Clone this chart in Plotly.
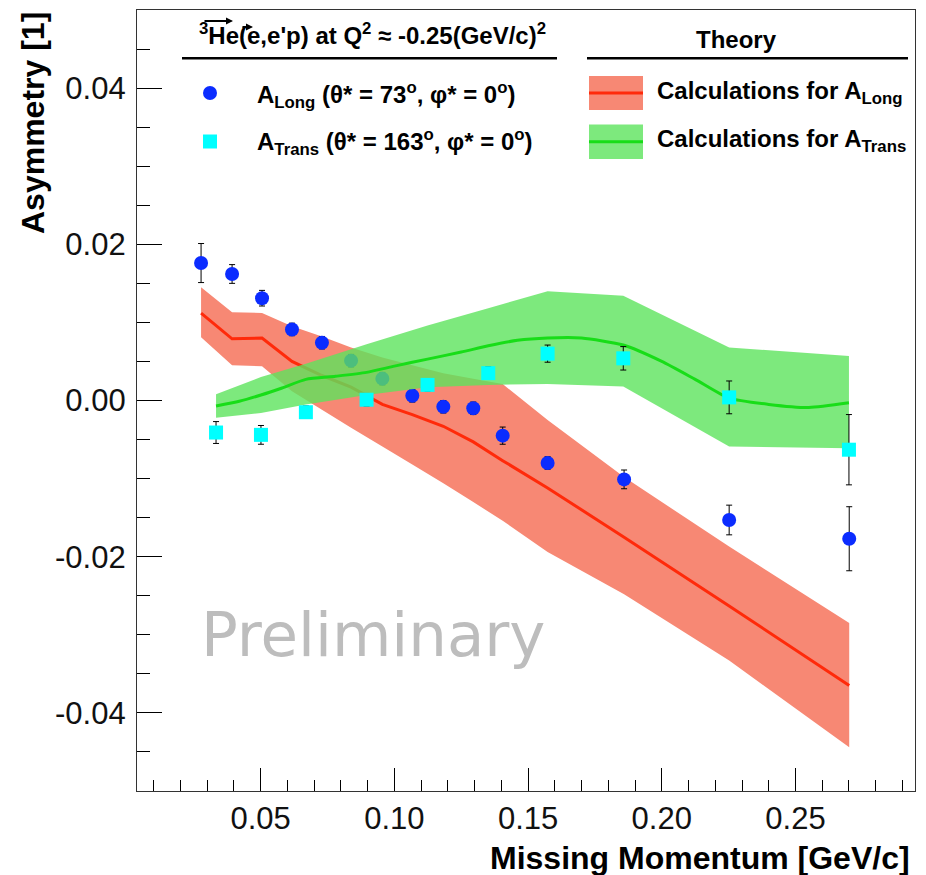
import plotly.graph_objects as go

# ---------------- data ----------------
# Measured A_Long (theta* = 73 deg, phi* = 0 deg)
x_long = [0.0277, 0.0393, 0.0505, 0.0617, 0.0729, 0.0838, 0.0955, 0.1067,
          0.1183, 0.1295, 0.1405, 0.1573, 0.1859, 0.2252, 0.2701]
a_long = [0.0176, 0.0162, 0.0131, 0.0091, 0.0074, 0.0051, 0.0028, 0.0006,
          -0.0008, -0.0010, -0.0045, -0.0080, -0.0101, -0.0153, -0.0177]
a_long_err = [0.0025, 0.0012, 0.0010, 0.0008, 0.0008, 0.0008, 0.0008, 0.0008,
              0.0008, 0.0008, 0.0011, 0.0008, 0.0012, 0.0019, 0.0041]

# Measured A_Trans (theta* = 163 deg, phi* = 0 deg)
x_trans = [0.0333, 0.0501, 0.0669, 0.0896, 0.1124, 0.1351, 0.1573, 0.1856,
           0.2252, 0.2700]
a_trans = [-0.0041, -0.0044, -0.0015, 0.0001, 0.0020, 0.0035, 0.0060, 0.0054,
           0.0004, -0.0063]
a_trans_err = [0.0014, 0.0012, 0.0008, 0.0008, 0.0008, 0.0008, 0.0011, 0.0015,
               0.0021, 0.0045]

# Theory for A_Long: central curve and uncertainty band
long_theory = [0.0112, 0.0079, 0.0080, 0.0050, 0.0032, 0.0017, -0.0005, -0.0018,
               -0.0033, -0.0053, -0.0077, -0.0112, -0.0175, -0.0263, -0.0365]
long_band_hi = [0.0145, 0.0113, 0.0112, 0.0095, 0.0082, 0.0068, 0.0055, 0.0045,
                0.0035, 0.0028, 0.0021, -0.0025, -0.0098, -0.0187, -0.0285]
long_band_lo = [0.0081, 0.0045, 0.0044, 0.0012, -0.0012, -0.0035, -0.0059, -0.0082,
                -0.0106, -0.0130, -0.0154, -0.0194, -0.0248, -0.0333, -0.0444]

# Theory for A_Trans: uncertainty band and central curve
trans_band_hi = [0.0008, 0.0030, 0.0047, 0.0072, 0.0096, 0.0118, 0.0140, 0.0134,
                 0.0068, 0.0057]
trans_band_lo = [-0.0022, -0.0016, -0.0005, 0.0007, 0.0017, 0.0020, 0.0021, 0.0018,
                 -0.0059, -0.0061]
trans_theory_x = [0.0333, 0.042, 0.0501, 0.058, 0.0669, 0.078, 0.0896, 0.10, 0.1124,
                  0.125, 0.1351, 0.146, 0.1573, 0.17, 0.1856, 0.20, 0.2125, 0.2252,
                  0.24, 0.255, 0.2700]
trans_theory = [-0.0007, -0.0001, 0.0007, 0.0016, 0.0027, 0.0031, 0.0036, 0.0044,
                0.0053, 0.0062, 0.0070, 0.0077, 0.0080, 0.0080, 0.0071, 0.0050,
                0.0027, 0.0003, -0.0005, -0.0009, -0.0003]

# Axis ticks
x_tick_vals = [0.05, 0.10, 0.15, 0.20, 0.25]
x_tick_text = ["0.05", "0.10", "0.15", "0.20", "0.25"]
y_tick_vals = [-0.04, -0.02, 0.0, 0.02, 0.04]
y_tick_text = ["-0.04", "-0.02", "0.00", "0.02", "0.04"]

# ---------------- style ----------------
W, H = 926, 875
ML, MR, MT, MB = 137, 11, 10, 84
FONT = "Liberation Sans"
BLUE = "#0b2cff"
CYAN = "#00ffff"
RED_LINE = "#ff2a0a"
RED_FILL = "rgb(247,136,116)"
GREEN_LINE = "#18dd18"
GREEN_FILL = "rgba(92,228,92,0.8)"


def px(x):
    """pixel column -> paper x"""
    return (x - ML) / (W - ML - MR)


def py(y):
    """pixel row -> paper y"""
    return (H - MB - y) / (H - MT - MB)


fig = go.Figure()

# A_Long theory band + curve
fig.add_trace(go.Scatter(
    x=x_long + x_long[::-1], y=long_band_hi + long_band_lo[::-1],
    fill="toself", mode="none", fillcolor=RED_FILL, hoverinfo="skip", showlegend=False))
fig.add_trace(go.Scatter(
    x=x_long, y=long_theory, mode="lines",
    line=dict(color=RED_LINE, width=3), hoverinfo="skip", showlegend=False))

# A_Long data
fig.add_trace(go.Scatter(
    x=x_long, y=a_long, mode="markers",
    marker=dict(symbol="circle", size=14, color=BLUE),
    error_y=dict(type="data", array=a_long_err, color="black", thickness=1, width=3),
    showlegend=False))

# A_Trans theory band + curve
fig.add_trace(go.Scatter(
    x=x_trans + x_trans[::-1], y=trans_band_hi + trans_band_lo[::-1],
    fill="toself", mode="none", fillcolor=GREEN_FILL, hoverinfo="skip", showlegend=False))
fig.add_trace(go.Scatter(
    x=trans_theory_x, y=trans_theory, mode="lines",
    line=dict(color=GREEN_LINE, width=3, shape="spline", smoothing=0.6),
    hoverinfo="skip", showlegend=False))

# A_Trans data
fig.add_trace(go.Scatter(
    x=x_trans, y=a_trans, mode="markers",
    marker=dict(symbol="square", size=14, color=CYAN),
    error_y=dict(type="data", array=a_trans_err, color="black", thickness=1, width=3),
    showlegend=False))

# ---------------- hand-made legend (overlay axes in paper units) ----------------
def overlay(trace):
    trace.update(xaxis="x2", yaxis="y2", hoverinfo="skip", showlegend=False)
    fig.add_trace(trace)


overlay(go.Scatter(x=[px(210)], y=[py(93)], mode="markers",
                   marker=dict(symbol="circle", size=14, color=BLUE)))
overlay(go.Scatter(x=[px(210)], y=[py(141.5)], mode="markers",
                   marker=dict(symbol="square", size=14, color=CYAN)))
for (y0, y1, ym, fill, line) in [(76, 110, 93, RED_FILL, RED_LINE),
                                 (124.5, 159, 141.7, GREEN_FILL, GREEN_LINE)]:
    overlay(go.Scatter(x=[px(589), px(643), px(643), px(589), px(589)],
                       y=[py(y0), py(y0), py(y1), py(y1), py(y0)],
                       fill="toself", mode="none", fillcolor=fill))
    overlay(go.Scatter(x=[px(589), px(643)], y=[py(ym), py(ym)], mode="lines",
                       line=dict(color=line, width=3)))

annotations = []


def text(x, y, s, size, xanchor="left", yanchor="middle", color="black", family=FONT, **kw):
    annotations.append(dict(xref="paper", yref="paper", x=px(x), y=py(y), text=s,
                            showarrow=False, xanchor=xanchor, yanchor=yanchor,
                            font=dict(family=family, size=size, color=color), **kw))


text(372, 34, "<b><sup>3</sup>He(e,e'p) at Q<sup>2</sup> ≈ -0.25(GeV/c)<sup>2</sup></b>",
     24, xanchor="center")
text(736, 40, "<b>Theory</b>", 24, xanchor="center")
text(255, 95, "<b>A<sub>Long</sub> (θ* = 73<sup>o</sup>, φ* = 0<sup>o</sup>)</b>", 24)
text(255, 142, "<b>A<sub>Trans</sub> (θ* = 163<sup>o</sup>, φ* = 0<sup>o</sup>)</b>", 24)
text(655, 92, "<b>Calculations for A<sub>Long</sub></b>", 24)
text(655, 140, "<b>Calculations for A<sub>Trans</sub></b>", 24)

# polarisation arrows over "He" and over the beam "e"
for (xa, xb, yy) in [(203, 233, 21), (241, 253, 27)]:
    annotations.append(dict(xref="paper", yref="paper", x=px(xb), y=py(yy),
                            ax=-(xb - xa), ay=0, axref="pixel", ayref="pixel",
                            text="", showarrow=True, arrowhead=2, arrowsize=0.7,
                            arrowwidth=2, arrowcolor="black", standoff=0, startstandoff=0))

# watermark
text(373, 634, "Preliminary", 61, xanchor="center", color="#bdbdbd", family="DejaVu Sans")

# axis titles
text(912, 858, "<b>Missing Momentum [GeV/c]</b>", 32, xanchor="right")
annotations.append(dict(xref="paper", yref="paper", x=px(53), y=py(10),
                        text="<b>Asymmetry [1]</b>", textangle=-90, showarrow=False,
                        xanchor="right", yanchor="top",
                        font=dict(family=FONT, size=32, color="black")))

shapes = [
    dict(type="line", xref="paper", yref="paper", x0=px(182), x1=px(557),
         y0=py(58.3), y1=py(58.3), line=dict(color="black", width=2.5)),
    dict(type="line", xref="paper", yref="paper", x0=px(587), x1=px(908),
         y0=py(58.3), y1=py(58.3), line=dict(color="black", width=2.5)),
]

axis_common = dict(showline=True, linecolor="#333333", linewidth=1.2, mirror=True,
                   ticks="inside", tickcolor="black", tickwidth=1, showgrid=False,
                   zeroline=False, tickmode="array",
                   tickfont=dict(family=FONT, size=31, color="#111111"))

fig.update_layout(
    width=W, height=H,
    margin=dict(l=ML, r=MR, t=MT, b=MB),
    paper_bgcolor="white", plot_bgcolor="white",
    xaxis=dict(axis_common, range=[0.00374, 0.2947], tickvals=x_tick_vals,
               ticktext=x_tick_text, ticklen=23, ticklabelstandoff=0,
               minor=dict(ticks="inside", ticklen=11, tickmode="linear", tick0=0,
                          dtick=0.01, tickcolor="black", tickwidth=1)),
    yaxis=dict(axis_common, range=[-0.05, 0.05], tickvals=y_tick_vals,
               ticktext=y_tick_text, ticklen=25, ticklabelstandoff=4,
               minor=dict(ticks="inside", ticklen=13, tickmode="linear", tick0=0,
                          dtick=0.005, tickcolor="black", tickwidth=1)),
    xaxis2=dict(overlaying="x", range=[0, 1], visible=False, anchor="y2"),
    yaxis2=dict(overlaying="y", range=[0, 1], visible=False, anchor="x2"),
    annotations=annotations,
    shapes=shapes,
)

fig.write_html("out.html")
